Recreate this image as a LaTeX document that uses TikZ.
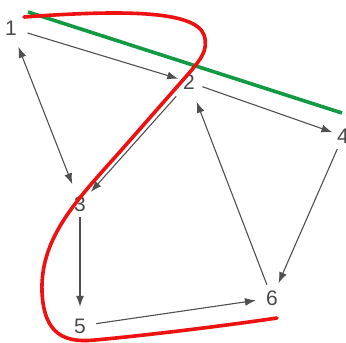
\documentclass[tikz,border=0pt]{standalone}
\usepackage{fontspec}
\setmainfont{Liberation Sans}
\usetikzlibrary{arrows.meta}
\definecolor{lbl}{HTML}{4A4A4A}
\definecolor{edge}{HTML}{505050}
\definecolor{redc}{HTML}{EE1111}
\definecolor{greenc}{HTML}{119944}
\tikzset{
  num/.style={circle, inner sep=0pt, minimum size=32pt, text=lbl, font=\fontsize{21}{21}\selectfont},
  conn/.style={draw=edge, line width=1.1pt, -{Latex[length=11pt,width=8pt]}},
  cut/.style={line width=3.6pt, line cap=round},
}
\begin{document}
\begin{tikzpicture}[x=1pt,y=-1pt]
\useasboundingbox (0,0) rectangle (346,343);
\node[num] (n1) at (11,28) {1};
\node[num] (n2) at (189,82) {2};
\node[num] (n3) at (80,204) {3};
\node[num] (n4) at (343,136) {4};
\node[num] (n5) at (80,326) {5};
\node[num] (n6) at (272,298) {6};
% connectors
\draw[conn, shorten <=1pt, shorten >=-5pt] (n1) -- (n2);
\draw[conn, {Latex[length=11pt,width=8pt]}-{Latex[length=11pt,width=8pt]}, shorten <=4pt, shorten >=5pt] (n1) -- (n3);
\draw[conn, shorten <=3pt] (n2) -- (n3);
\draw[conn, shorten <=-2pt, shorten >=-5pt] (n2) -- (n4);
\draw[conn, shorten <=-2pt, shorten >=5pt] (n6) -- (n2);
\draw[conn, shorten <=-2pt] (n4) -- (n6);
\draw[conn, shorten <=-3pt, shorten >=3pt] (n3) -- (n5);
\draw[conn] (n5) -- (n6);
% cuts
\draw[cut, draw=greenc, line cap=butt] (28,12) -- (342,113);
\draw[cut, draw=redc] (24,17) .. controls (120,10) and (195,10) .. (204,35)
  .. controls (209,50) and (200,60) .. (190,72)
  -- (125,146)
  .. controls (80,197) and (40,235) .. (42,292)
  .. controls (44,335) and (65,343) .. (95,340)
  .. controls (150,335) and (230,325) .. (277,318);
\end{tikzpicture}
\end{document}
